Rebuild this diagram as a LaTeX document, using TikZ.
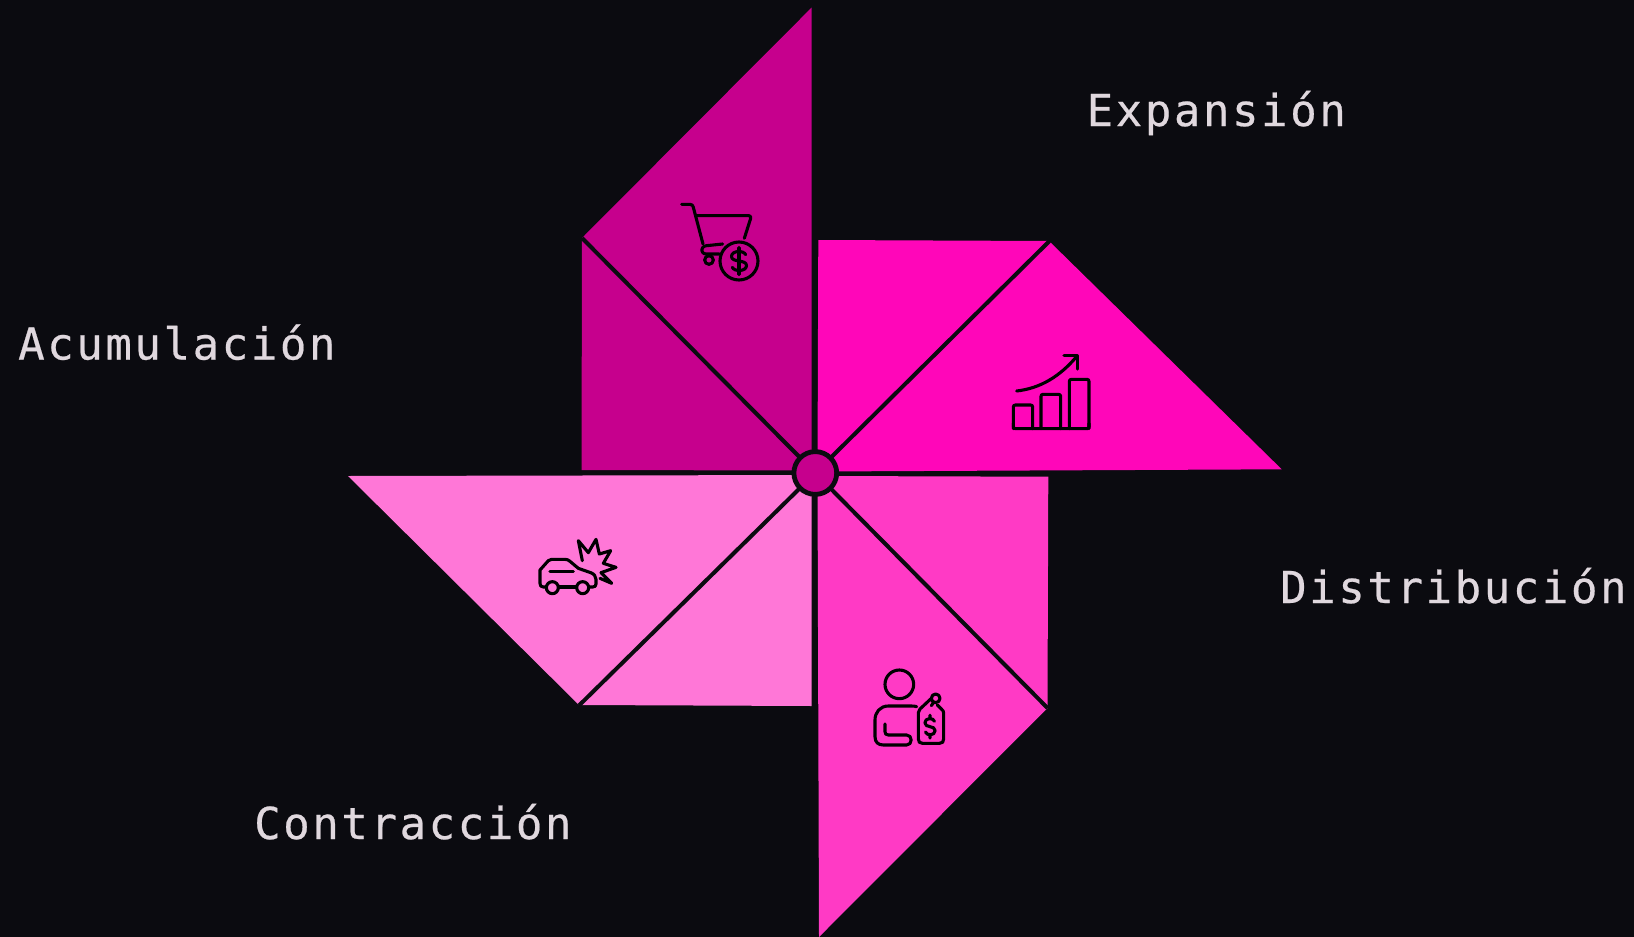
\documentclass[tikz,border=0pt]{standalone}
\usepackage{fontspec}
\setmainfont{DejaVu Sans Mono}[LetterSpace=5.9,FakeBold=0.5]
\definecolor{bgdark}{HTML}{0B0B10}
\definecolor{petaltop}{HTML}{C6008D}
\definecolor{petalright}{HTML}{FF06B9}
\definecolor{petalbottom}{HTML}{FF3AC5}
\definecolor{petalleft}{HTML}{FF77D7}
\definecolor{labeltext}{HTML}{E0D8DE}
\tikzset{
  blade/.style={draw=none},
  fold/.style={draw=bgdark,line width=4pt},
  hubdisc/.style={circle,draw=bgdark,fill=petaltop,line width=4.8pt,minimum size=42.8pt,inner sep=0pt},
  phase/.style={anchor=base west,inner sep=0pt,text=labeltext,font=\fontsize{44}{50}\selectfont},
  iconline/.style={draw=black,line width=3.1pt,line cap=round,line join=round,fill=none},
  iconzoom/.style={x=0.33333pt,y=-0.33333pt}
}
\newcommand{\mydollar}[4]{%
  \draw[iconline,shift={(#1,#2)},xscale=#3,yscale=#4]
    (16,-14) .. controls (12,-24) and (-18,-24) .. (-18,-10)
    .. controls (-18,4) and (18,-4) .. (18,10)
    .. controls (18,24) and (-12,24) .. (-16,14)
    (0,-30) -- (0,-22) (0,22) -- (0,30);}
\begin{document}
\begin{tikzpicture}[x=1pt,y=-1pt]
\useasboundingbox (0,0) rectangle (1634,937);
\fill[bgdark] (0,0) rectangle (1634,937);
% blades
\fill[blade,petaltop] (811.7,7.5) -- (582,238) -- (581.5,470) -- (811.7,470.5) -- cycle;
\fill[blade,petalright] (818.3,240) -- (1049,241) -- (1281.7,469.3) -- (817.5,471.5) -- cycle;
\fill[blade,petalbottom] (817.5,476) -- (1048.3,476.7) -- (1047.5,708) -- (819,937) -- cycle;
\fill[blade,petalleft] (348,476) -- (811.7,475) -- (811.7,706) -- (579,705) -- cycle;
% folds and hub
\coordinate (foldtop) at (582,238);
\coordinate (foldright) at (1049.5,241);
\coordinate (foldbottom) at (1047.5,708);
\coordinate (foldleft) at (579,705.5);
\coordinate (hubcentre) at (815.3,473);
\draw[fold] (hubcentre) -- (foldtop);
\draw[fold] (hubcentre) -- (foldright);
\draw[fold] (hubcentre) -- (foldbottom);
\draw[fold] (hubcentre) -- (foldleft);
\node[hubdisc] (hub) at (hubcentre) {};
% cart
\begin{scope}[shift={(660,180)},iconzoom]
\draw[iconline] (65,73) -- (90,73) .. controls (97,73) and (99,77) .. (100,82) -- (129,192);
\draw[iconline] (188,192) -- (140,197) .. controls (120,199) and (120,222) .. (140,222) -- (178,222);
\draw[iconline] (108,107) -- (266,107) .. controls (271,107) and (273,110) .. (272,115) -- (253,175);
\draw[iconline] (147,240) circle (13);
\draw[iconline] (237,243) circle (57);
\mydollar{237}{243}{1.25}{1.35}
\draw[iconline] (237,205) -- (237,282);
\end{scope}
% chart
\begin{scope}[shift={(990,340)},iconzoom]
\draw[iconline,rounded corners=2pt] (70,266) -- (70,195) -- (128,195) -- (128,266);
\draw[iconline,rounded corners=2pt] (153,266) -- (153,163) -- (212,163) -- (212,266);
\draw[iconline,rounded corners=2pt] (238,266) -- (238,118) -- (297,118) -- (297,266);
\draw[iconline,rounded corners=2pt] (70,250) -- (70,266) -- (297,266) -- (297,250);
\draw[iconline] (80,153) .. controls (150,145) and (210,110) .. (262,47);
\draw[iconline] (222,47) -- (262,47) -- (262,87);
\end{scope}
% car crash
\begin{scope}[shift={(520,520)},iconzoom]
\draw[iconline] (78,201) -- (70,201) .. controls (63,201) and (60,197) .. (60,190) -- (60,150) -- (85,122)
  .. controls (88,119) and (90,118) .. (95,118) -- (135,118) .. controls (142,118) and (145,120) .. (150,124)
  -- (175,145) -- (212,158) .. controls (222,162) and (228,168) .. (228,178) -- (228,192)
  .. controls (228,198) and (224,201) .. (218,201) -- (207,201);
\draw[iconline] (116,201) -- (169,201);
\draw[iconline] (97,203) circle (18);
\draw[iconline] (188,203) circle (18);
\draw[iconline] (90,155) -- (160,155);
\draw[iconline] (187,122) -- (175,62) -- (205,98) -- (228,58) -- (238,102) -- (272,92) -- (250,130) -- (288,142) -- (243,158) -- (275,190) -- (240,175);
\end{scope}
% person with tag
\begin{scope}[shift={(860,655)},iconzoom]
\draw[iconline] (118,88) circle (43);
\draw[iconline] (170,155) .. controls (165,153) and (160,153) .. (150,153) -- (85,153)
  .. controls (60,153) and (45,172) .. (45,195) -- (45,245) .. controls (45,262) and (55,270) .. (70,270)
  -- (140,270) .. controls (158,270) and (158,240) .. (140,240) -- (85,240) .. controls (78,240) and (75,236) .. (75,230) -- (75,207);
\draw[iconline] (227,130) circle (13);
\draw[iconline] (212,132) -- (180,162) .. controls (176,166) and (175,168) .. (175,173) -- (175,252)
  .. controls (175,261) and (179,265) .. (188,265) -- (238,265) .. controls (247,265) and (251,261) .. (251,252)
  -- (251,175) .. controls (251,169) and (249,166) .. (245,163) -- (232,150);
\draw[iconline] (214,152) -- (222,141);
\mydollar{210}{215}{0.85}{1.15}
\end{scope}
% labels
\node[phase] (expansion) at (1086.5,126) {Expansión};
\node[phase] (acumulacion) at (18,359.5) {Acumulación};
\node[phase] (distribucion) at (1280,603) {Distribución};
\node[phase] (contraccion) at (254,839) {Contracción};
\end{tikzpicture}
\end{document}
